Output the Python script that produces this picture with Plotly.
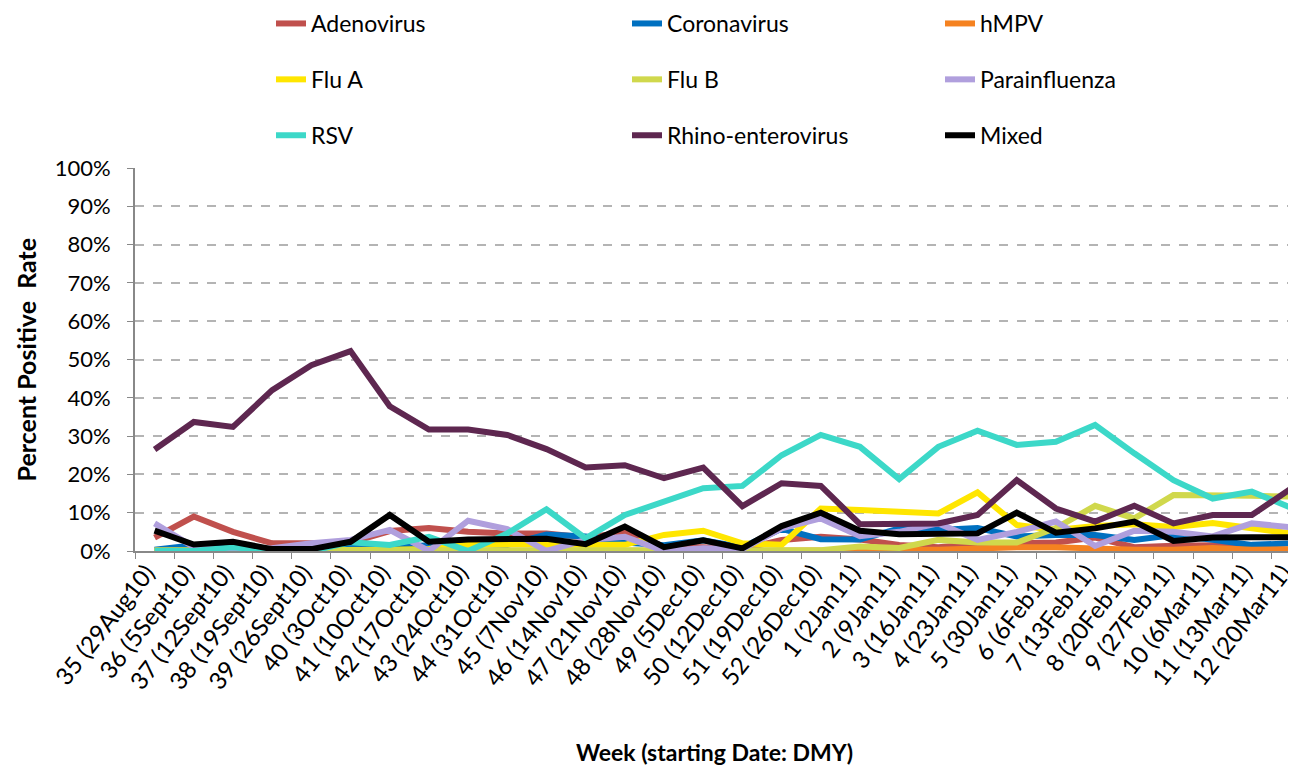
import plotly.graph_objects as go

weeks = [
    "35 (29Aug10)", "36 (5Sept10)", "37 (12Sept10)", "38 (19Sept10)", "39 (26Sept10)",
    "40 (3Oct10)", "41 (10Oct10)", "42 (17Oct10)", "43 (24Oct10)", "44 (31Oct10)",
    "45 (7Nov10)", "46 (14Nov10)", "47 (21Nov10)", "48 (28Nov10)", "49 (5Dec10)",
    "50 (12Dec10)", "51 (19Dec10)", "52 (26Dec10)", "1 (2Jan11)", "2 (9Jan11)",
    "3 (16Jan11)", "4 (23Jan11)", "5 (30Jan11)", "6 (6Feb11)", "7 (13Feb11)",
    "8 (20Feb11)", "9 (27Feb11)", "10 (6Mar11)", "11 (13Mar11)", "12 (20Mar11)",
]

# percent positive, per week
adenovirus = [3.5, 9.0, 5.0, 2.0, 2.0, 2.2, 5.2, 6.0, 5.0, 4.6, 4.6, 3.5, 4.8, 1.2, 1.0,
              0.5, 2.9, 3.7, 3.0, 1.6, 1.0, 1.8, 2.0, 2.2, 3.5, 1.0, 1.4, 1.5, 0.8, 0.2]
coronavirus = [0.3, 1.5, 0.5, 0.3, 0.3, 1.0, 1.0, 1.5, 2.0, 1.6, 4.3, 3.8, 2.2, 1.5, 2.8,
               1.0, 5.8, 3.1, 3.0, 5.9, 5.5, 6.0, 3.8, 4.2, 4.2, 2.9, 4.2, 2.9, 1.6, 2.0]
hmpv = [0.0, 0.0, 0.0, 0.0, 0.0, 0.0, 0.0, 0.0, 0.0, 0.0, 0.0, 0.0, 0.0, 0.0, 0.0,
        0.0, 0.0, 0.1, 0.8, 0.3, 0.3, 0.8, 1.0, 1.0, 0.5, 0.3, 0.3, 0.8, 0.3, 0.5]
flu_a = [0.0, 0.0, 0.0, 0.0, 0.0, 0.3, 0.3, 0.5, 1.6, 1.8, 1.6, 1.6, 1.6, 4.2, 5.3,
         2.0, 1.6, 11.1, 10.7, 10.3, 9.8, 15.3, 6.8, 5.5, 6.5, 7.0, 6.3, 7.3, 6.0, 4.6]
flu_b = [0.2, 0.2, 0.2, 0.2, 0.2, 0.2, 0.2, 0.2, 0.2, 0.2, 0.2, 0.2, 0.2, 0.2, 0.2,
         0.2, 0.2, 0.2, 1.2, 0.8, 2.9, 2.2, 2.2, 6.0, 11.8, 8.5, 14.6, 14.6, 14.4, 14.2]
parainfluenza = [7.2, 1.0, 0.0, 0.7, 2.0, 2.9, 5.5, 0.0, 7.9, 5.7, 0.0, 2.9, 3.7, 0.0, 0.7,
                 0.5, 5.9, 8.5, 3.9, 5.0, 7.2, 2.9, 5.0, 7.7, 1.3, 5.3, 5.0, 3.8, 7.2, 6.2]
rsv = [0.0, 0.0, 1.0, 0.0, 0.0, 2.3, 1.6, 3.7, 0.0, 4.6, 10.9, 3.3, 9.4, 12.9, 16.4,
       17.0, 25.0, 30.3, 27.2, 18.8, 27.2, 31.4, 27.7, 28.5, 32.9, 25.5, 18.5, 13.7, 15.5, 11.3]
rhino = [26.5, 33.7, 32.4, 42.0, 48.5, 52.2, 37.8, 31.7, 31.7, 30.3, 26.6, 21.8, 22.4, 19.0, 21.8,
         11.7, 17.7, 17.0, 7.0, 7.0, 7.2, 9.4, 18.5, 11.1, 7.7, 11.8, 7.2, 9.4, 9.4, 16.3]
mixed = [5.3, 1.7, 2.4, 0.5, 0.5, 2.4, 9.4, 2.4, 3.0, 3.0, 3.2, 1.8, 6.4, 1.0, 2.8,
         0.7, 6.5, 10.0, 5.3, 4.4, 4.6, 4.6, 10.0, 4.8, 5.9, 7.7, 2.6, 3.5, 3.6, 3.6]

# name, values, colour, legend column
series = [
    ("Adenovirus", adenovirus, "#C0504D", "legend"),
    ("Coronavirus", coronavirus, "#0070C0", "legend2"),
    ("hMPV", hmpv, "#F58220", "legend3"),
    ("Flu A", flu_a, "#FFE600", "legend"),
    ("Flu B", flu_b, "#D0D84C", "legend2"),
    ("Parainfluenza", parainfluenza, "#B09FDD", "legend3"),
    ("RSV", rsv, "#3CD8C8", "legend"),
    ("Rhino-enterovirus", rhino, "#5E2750", "legend2"),
    ("Mixed", mixed, "#000000", "legend3"),
]

FONT = "Lato"

fig = go.Figure()
for name, vals, color, leg in series:
    fig.add_trace(go.Scatter(
        x=weeks, y=[v / 100 for v in vals], name=name, mode="lines",
        line=dict(color=color, width=6), legend=leg, legendgroup=name,
    ))

# plot area spans 383 px vertically; legend block sits above it
leg_common = dict(orientation="v", xref="container", yref="paper",
                  xanchor="left", yanchor="top", y=549 / 383, tracegroupgap=23,
                  bgcolor="rgba(0,0,0,0)", font=dict(family=FONT, size=23, color="#000"))

fig.update_layout(
    width=1296, height=770,
    margin=dict(l=127, r=11, t=160, b=227, autoexpand=False),
    plot_bgcolor="white", paper_bgcolor="white",
    font=dict(family=FONT, color="#000"),
    legend=dict(x=263 / 1296, **leg_common),
    legend2=dict(x=619 / 1296, **leg_common),
    legend3=dict(x=932 / 1296, **leg_common),
    xaxis=dict(
        type="category", range=[-0.5, 29.05], tickangle=-52,
        tickfont=dict(family=FONT, size=24), ticks="outside", tickson="boundaries",
        ticklabelshift=-8, ticklabelstandoff=-4,
        ticklen=6, tickcolor="#888", showline=True, linecolor="#888", linewidth=2,
        showgrid=False,
    ),
    yaxis=dict(
        range=[0, 1], dtick=0.1, tickformat=".0%",
        tickfont=dict(family=FONT, size=22), ticks="outside", ticklen=6, tickcolor="#888",
        ticklabelstandoff=12,
        showline=True, linecolor="#888", linewidth=2,
        showgrid=True, gridcolor="#B4B4B4", gridwidth=2, griddash="dash",
        zeroline=False,
    ),
    annotations=[
        dict(text="<b>Week (starting Date: DMY)</b>", xref="paper", yref="paper",
             x=0.5, y=(543 - 744) / 383, xanchor="center", yanchor="middle",
             showarrow=False, font=dict(family=FONT, size=23)),
        dict(text="<b>Percent Positive&nbsp; Rate</b>", xref="paper", yref="paper",
             x=(17 - 127) / 1158, y=0.5, xanchor="center", yanchor="middle",
             textangle=-90, showarrow=False, font=dict(family=FONT, size=25)),
    ],
)

fig.write_html("out.html")
